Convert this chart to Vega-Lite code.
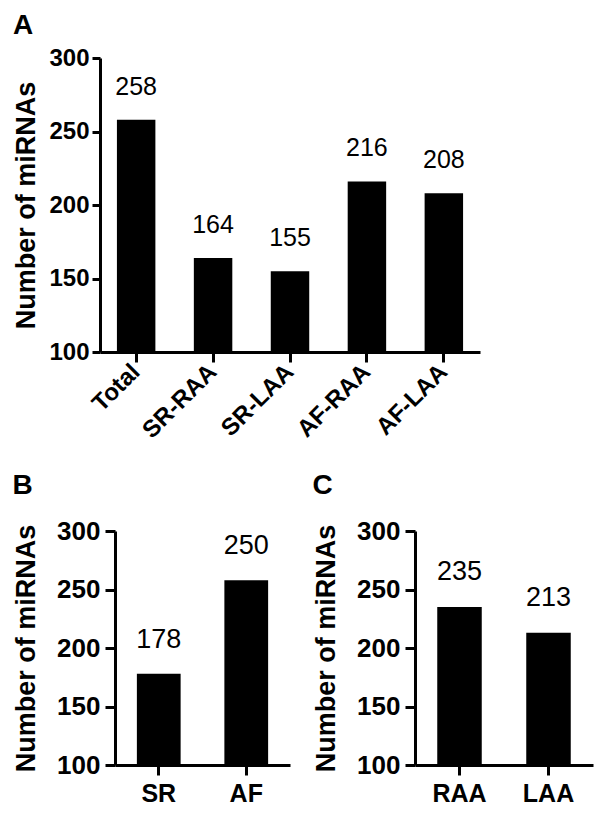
{
  "$schema": "https://vega.github.io/schema/vega-lite/v6.json",
  "background": "white",
  "padding": {"left": 12, "top": 12, "right": 5, "bottom": 5},
  "config": {
    "font": "Liberation Sans",
    "view": {"stroke": null},
    "axis": {
      "grid": false,
      "domainColor": "black",
      "domainWidth": 3,
      "tickColor": "black",
      "tickWidth": 3,
      "labelColor": "black",
      "labelFontWeight": "bold",
      "labelFont": "Liberation Sans",
      "titleColor": "black",
      "titleFont": "Liberation Sans",
      "titleFontWeight": "bold"
    },
    "title": {"font": "Liberation Sans", "fontWeight": "bold", "color": "black", "anchor": "start", "frame": "bounds"}
  },
  "spacing": 14,
  "vconcat": [
    {
      "title": {"text": "A", "fontSize": 28, "offset": 6},
      "width": 380,
      "height": 294,
      "data": {"values": [
        {"group": "Total", "value": 258, "label": "258"},
        {"group": "SR-RAA", "value": 164, "label": "164"},
        {"group": "SR-LAA", "value": 155, "label": "155"},
        {"group": "AF-RAA", "value": 216, "label": "216"},
        {"group": "AF-LAA", "value": 208, "label": "208"}
      ]},
      "encoding": {
        "x": {"field": "group", "type": "nominal", "sort": null,
          "scale": {"paddingInner": 0.5, "paddingOuter": 0.22},
          "axis": {"title": null, "labelAngle": -45, "labelAlign": "right", "labelBaseline": "middle", "labelFontSize": 24, "tickSize": 10, "labelPadding": 6, "translate": -14.5, "offset": 15}}
      },
      "layer": [
        {
          "mark": {"type": "bar", "color": "black", "xOffset": -15},
          "encoding": {
            "y": {"field": "value", "type": "quantitative",
              "scale": {"domain": [100, 300], "zero": false, "nice": false},
              "axis": {"title": "Number of miRNAs", "titleFontSize": 27, "titlePadding": 8, "offset": 15, "values": [100, 150, 200, 250, 300], "labelFontSize": 24, "tickSize": 8, "labelPadding": 3}},
            "y2": {"datum": 100}
          }
        },
        {
          "mark": {"type": "text", "fontSize": 25, "dy": -25, "xOffset": -15, "baseline": "alphabetic", "color": "black", "font": "Liberation Sans"},
          "encoding": {
            "y": {"field": "value", "type": "quantitative"},
            "text": {"field": "label"}
          }
        }
      ]
    },
    {
      "hconcat": [
        {
          "title": {"text": "B", "fontSize": 28, "offset": 18},
          "width": 175,
          "height": 234,
          "data": {"values": [
            {"group": "SR", "value": 178, "label": "178"},
            {"group": "AF", "value": 258, "label": "250"}
          ]},
          "encoding": {
            "x": {"field": "group", "type": "nominal", "sort": null,
              "scale": {"paddingInner": 0.5, "paddingOuter": 0.25},
              "axis": {"title": null, "labelAngle": 0, "labelFontSize": 25, "tickSize": 10, "labelPadding": 6}}
          },
          "layer": [
            {
              "mark": {"type": "bar", "color": "black"},
              "encoding": {
                "y": {"field": "value", "type": "quantitative",
                  "scale": {"domain": [100, 300], "zero": false, "nice": false},
                  "axis": {"title": "Number of miRNAs", "titleFontSize": 27, "titlePadding": 16, "values": [100, 150, 200, 250, 300], "labelFontSize": 26, "tickSize": 10, "labelPadding": 5}},
                "y2": {"datum": 100}
              }
            },
            {
              "mark": {"type": "text", "fontSize": 27, "dy": -26, "baseline": "alphabetic", "color": "black", "font": "Liberation Sans"},
              "encoding": {
                "y": {"field": "value", "type": "quantitative"},
                "text": {"field": "label"}
              }
            }
          ]
        },
        {
          "title": {"text": "C", "fontSize": 28, "offset": 18},
          "width": 178,
          "height": 234,
          "data": {"values": [
            {"group": "RAA", "value": 235, "label": "235"},
            {"group": "LAA", "value": 213, "label": "213"}
          ]},
          "encoding": {
            "x": {"field": "group", "type": "nominal", "sort": null,
              "scale": {"paddingInner": 0.5, "paddingOuter": 0.25},
              "axis": {"title": null, "labelAngle": 0, "labelFontSize": 25, "tickSize": 10, "labelPadding": 6}}
          },
          "layer": [
            {
              "mark": {"type": "bar", "color": "black"},
              "encoding": {
                "y": {"field": "value", "type": "quantitative",
                  "scale": {"domain": [100, 300], "zero": false, "nice": false},
                  "axis": {"title": "Number of miRNAs", "titleFontSize": 27, "titlePadding": 16, "values": [100, 150, 200, 250, 300], "labelFontSize": 26, "tickSize": 10, "labelPadding": 5}},
                "y2": {"datum": 100}
              }
            },
            {
              "mark": {"type": "text", "fontSize": 27, "dy": -27, "baseline": "alphabetic", "color": "black", "font": "Liberation Sans"},
              "encoding": {
                "y": {"field": "value", "type": "quantitative"},
                "text": {"field": "label"}
              }
            }
          ]
        }
      ],
      "spacing": 22
    }
  ]
}
